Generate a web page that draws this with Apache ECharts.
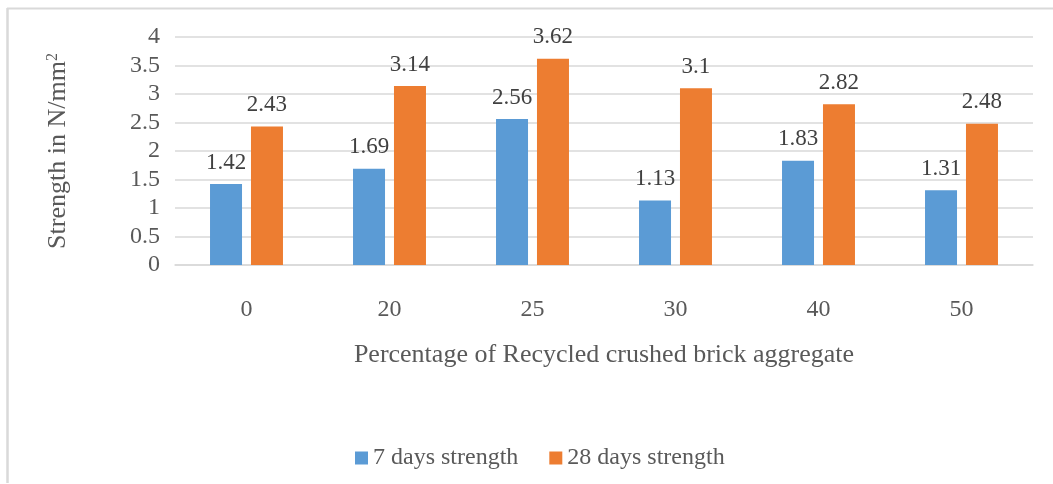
<!DOCTYPE html>
<html>
<head>
<meta charset="utf-8">
<script src="https://cdn.jsdelivr.net/npm/echarts@6/dist/echarts.min.js"></script>
<style>
  html, body { margin: 0; padding: 0; background: #fff; }
  #chart { width: 1053px; height: 484px; }
</style>
</head>
<body>
<div id="chart"></div>
<script>
// Compressive strength vs. recycled brick aggregate content
const categories = ['0', '20', '25', '30', '40', '50'];
const strength7 = [1.42, 1.69, 2.56, 1.13, 1.83, 1.31];
const strength28 = [2.43, 3.14, 3.62, 3.1, 2.82, 2.48];
const seriesNames = ['7 days strength', '28 days strength'];

const FONT = '"Liberation Serif", "DejaVu Serif", serif';
const chart = echarts.init(document.getElementById('chart'));

const labelStyle = {
  show: true,
  position: 'top',
  distance: 10,
  color: '#404040',
  fontFamily: FONT,
  fontSize: 23
};

chart.setOption({
  animation: false,
  // frame: top and left edges
  graphic: [
    {
      type: 'line',
      shape: { x1: 7, y1: 8.5, x2: 1053, y2: 8.5 },
      style: { stroke: '#d9d9d9', lineWidth: 2 },
      silent: true
    },
    {
      type: 'line',
      shape: { x1: 7.5, y1: 8, x2: 7.5, y2: 483 },
      style: { stroke: '#d9d9d9', lineWidth: 2.5 },
      silent: true
    }
  ],
  grid: { left: 175, right: 20, top: 37, bottom: 219 },
  legend: {
    left: 350,
    top: 441,
    itemWidth: 13,
    itemHeight: 13,
    itemGap: 31,
    icon: 'rect',
    textStyle: { color: '#595959', fontFamily: FONT, fontSize: 24 },
    data: seriesNames
  },
  xAxis: {
    type: 'category',
    data: categories,
    name: 'Percentage of Recycled crushed brick aggregate',
    nameLocation: 'middle',
    nameGap: 77,
    nameTextStyle: { color: '#595959', fontFamily: FONT, fontSize: 26 },
    axisLine: { lineStyle: { color: '#d9d9d9', width: 1.5 } },
    axisTick: { show: false },
    axisLabel: { color: '#595959', fontFamily: FONT, fontSize: 24, margin: 33 }
  },
  yAxis: {
    type: 'value',
    min: 0,
    max: 4,
    interval: 0.5,
    name: 'Strength in N/mm{sup|2}',
    nameLocation: 'middle',
    nameGap: 104,
    nameTextStyle: {
      color: '#595959',
      fontFamily: FONT,
      fontSize: 26,
      rich: {
        sup: {
          color: '#595959',
          fontFamily: FONT,
          fontSize: 16,
          verticalAlign: 'top',
          padding: [0, 0, 10, 0]
        }
      }
    },
    axisLine: { show: false },
    axisTick: { show: false },
    axisLabel: { color: '#595959', fontFamily: FONT, fontSize: 24, margin: 15 },
    splitLine: { lineStyle: { color: '#d9d9d9', width: 1.5 } }
  },
  series: [
    {
      name: seriesNames[0],
      type: 'bar',
      data: strength7,
      barWidth: 32,
      barGap: '28%',
      itemStyle: { color: '#5b9bd5' },
      label: labelStyle
    },
    {
      name: seriesNames[1],
      type: 'bar',
      data: strength28,
      barWidth: 32,
      itemStyle: { color: '#ed7d31' },
      label: labelStyle
    }
  ]
});
</script>
</body>
</html>
